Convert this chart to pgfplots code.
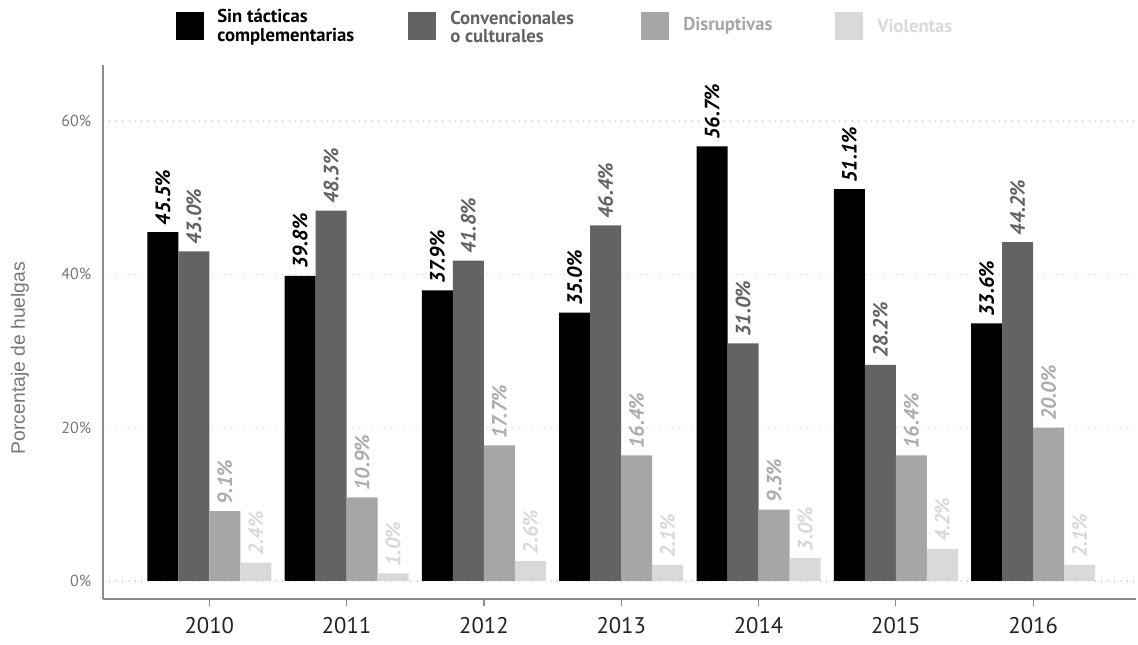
\documentclass[border=0pt]{standalone}
\usepackage{pgfplots}
\pgfplotsset{compat=1.18}
\usepackage{fontspec}
\setmainfont{PT Sans}
\newfontfamily\ylabfont{Liberation Sans}
\definecolor{c1}{HTML}{000000}
\definecolor{c2}{HTML}{636363}
\definecolor{c3}{HTML}{A6A6A6}
\definecolor{c4}{HTML}{D9D9D9}
\definecolor{l3}{HTML}{ADADAD}
\definecolor{axisgray}{HTML}{8C8C8C}
\definecolor{gridgray}{HTML}{CFCFCF}
\definecolor{tickgray}{HTML}{777777}
\definecolor{xlab}{HTML}{222222}
\begin{document}
\begin{tikzpicture}
\useasboundingbox (0,0) rectangle (853.5pt,-483pt);
\begin{axis}[
  at={(77.25pt,-449.25pt)}, anchor=south west,
  scale only axis, width=774.75pt, height=400.5pt,
  xmin=-0.774, xmax=6.749, ymin=-2.35, ymax=67.3,
  /pgf/number format/assume math mode=true,
  axis lines=left,
  axis line style={-, draw=axisgray, line width=0.9pt},
  ybar=0pt, bar width=23.25pt,
  xtick={0,1,2,3,4,5,6},
  xticklabels={2010,2011,2012,2013,2014,2015,2016},
  xticklabel style={font=\fontsize{17}{17}\selectfont, text=xlab, yshift=-5pt},
  xtick style={draw=axisgray, line width=0.9pt},
  tick align=outside, major tick length=5.25pt,
  ytick={0,20,40,60},
  yticklabel={\pgfmathprintnumber{\tick}\%},
  yticklabel style={font=\fontsize{12}{12}\selectfont, text=tickgray},
  ytick style={draw=none},
  ymajorgrids,
  grid style={gridgray, line width=0.8pt, dash pattern=on 0.8pt off 4pt},
  nodes near coords={\pgfmathprintnumber[fixed,fixed zerofill,precision=1]{\pgfplotspointmeta}\%},
  every node near coord/.append style={rotate=90, anchor=west, inner sep=5pt,
    font=\fontsize{15.5}{15.5}\selectfont\bfseries\itshape},
]
\addplot[fill=c1, draw=none, every node near coord/.append style={text=c1}] coordinates {(0,45.5) (1,39.8) (2,37.9) (3,35.0) (4,56.7) (5,51.1) (6,33.6)};
\addplot[fill=c2, draw=none, every node near coord/.append style={text=c2}] coordinates {(0,43.0) (1,48.3) (2,41.8) (3,46.4) (4,31.0) (5,28.2) (6,44.2)};
\addplot[fill=c3, draw=none, every node near coord/.append style={text=l3}] coordinates {(0,9.1) (1,10.9) (2,17.7) (3,16.4) (4,9.3) (5,16.4) (6,20.0)};
\addplot[fill=c4, draw=none, every node near coord/.append style={text=c4}] coordinates {(0,2.4) (1,1.0) (2,2.6) (3,2.1) (4,3.0) (5,4.2) (6,2.1)};
\end{axis}
% y label
\node[rotate=90, text=tickgray, font=\ylabfont\fontsize{14.5}{14.5}\selectfont] at (15pt,-268.5pt) {Porcentaje de huelgas};
% legend
\begin{scope}[x=0.75pt, y=-0.75pt, every node/.style={anchor=west, align=left, inner sep=0pt, font=\fontsize{14}{14}\selectfont\bfseries}]
\fill[c1] (176,12) rectangle (204,40);
\node[text=c1] at (217,27) {Sin tácticas\\complementarias};
\fill[c2] (408,12) rectangle (436,40);
\node[text=c2] at (450,27) {Convencionales\\o culturales};
\fill[c3] (641,12) rectangle (669,40);
\node[text=c3] at (683,26) {Disruptivas};
\fill[c4] (835,12) rectangle (863,40);
\node[text=c4] at (877,26) {Violentas};
\end{scope}
\end{tikzpicture}
\end{document}
